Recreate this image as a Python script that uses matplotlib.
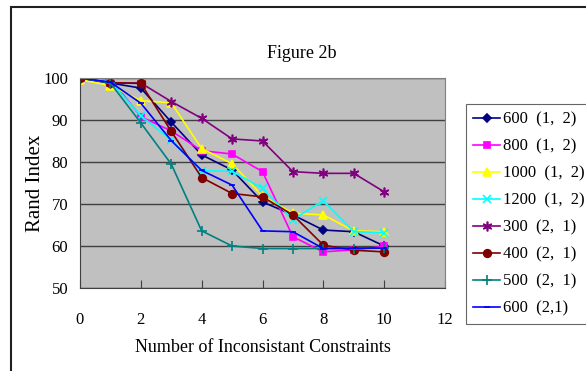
import matplotlib
matplotlib.use("Agg")
import matplotlib.pyplot as plt
from matplotlib.patches import Rectangle

plt.rcParams["font.family"] = ["Liberation Serif", "Noto Sans CJK SC"]

# number of inconsistent constraints
x = [0, 1, 2, 3, 4, 5, 6, 7, 8, 9, 10]

# Rand index per series
ri_600_12 = [100, 98.8, 97.6, 89.5, 81.7, 78.1, 70.5, 67.4, 63.8, 63.4, 60.0]
ri_800_12 = [100, 99.8, 90.8, 87.4, 82.7, 81.9, 77.7, 62.2, 58.6, 59.1, 59.9]
ri_1000_12 = [99.6, 98.2, 94.6, 94.1, 83.2, 79.6, 71.9, 67.8, 67.4, 63.6, 63.4]
ri_1200_12 = [100, 99.2, 91.0, 85.2, 77.9, 77.8, 73.7, 66.3, 70.8, 63.4, 63.2]
ri_300_21 = [100, 98.8, 98.8, 94.4, 90.4, 85.5, 85.0, 77.7, 77.3, 77.3, 72.9]
ri_400_21 = [100, 98.9, 98.7, 87.3, 76.3, 72.5, 71.7, 67.4, 60.2, 59.0, 58.6]
ri_500_21 = [100, 98.8, 89.3, 79.5, 63.6, 60.0, 59.4, 59.4, 59.4, 59.4, 59.5]
ri_600_21 = [100, 99.0, 94.0, 85.1, 78.0, 74.5, 63.6, 63.4, 59.4, 59.5, 59.5]

labels = ["600  (1,  2)", "800  (1,  2)", "1000  (1,  2)", "1200  (1,  2)",
          "300  (2,  1)", "400  (2,  1)", "500  (2,  1)", "600  (2,1)"]

series = [ri_600_12, ri_800_12, ri_1000_12, ri_1200_12,
          ri_300_21, ri_400_21, ri_500_21, ri_600_21]
styles = [("#000080", "D", 4.5), ("#FF00FF", "s", 5), ("#FFFF00", "^", 6),
          ("#00FFFF", "x", 6), ("#800080", (6, 2, 0), 7), ("#800000", "o", 5.5),
          ("#008080", "+", 7), ("#0000FF", "_", 5)]

fig = plt.figure(figsize=(5.86, 3.71), dpi=100)
ax = fig.add_axes([80 / 586, 83 / 371, 365 / 586, 210 / 371])
ax.set_facecolor("#C0C0C0")

for ys, lab, (col, mk, ms) in zip(series, labels, styles):
    ax.plot(x, ys, color=col, marker=mk, markersize=ms, lw=1.2,
            markeredgecolor=col, markeredgewidth=1.2, label=lab)

ax.set_xlim(0, 12)
ax.set_ylim(50, 100)
ax.set_xticks(range(0, 13, 2))
ax.set_yticks(range(50, 101, 10))
ax.yaxis.grid(True, color="#404040", lw=1)
ax.set_axisbelow(True)
ax.tick_params(axis="x", direction="in", length=6, pad=17, labelsize=12,
               color="#404040")
ax.tick_params(axis="y", length=0, pad=8.5, labelsize=12)
for side in ("left", "bottom"):
    ax.spines[side].set_color("#404040")
for side in ("top", "right"):
    ax.spines[side].set_color("#808080")

ax.set_xlabel("Number of Inconsistant Constraints", fontsize=13, labelpad=8)
ax.set_ylabel("Rand Index", fontsize=15, labelpad=-1)
fig.text(302 / 586, 1 - 53 / 371, "Figure 2b", fontsize=13,
         ha="center", va="center")

leg = ax.legend(loc="upper left", bbox_to_anchor=(466 / 586, 1 - 104 / 371),
                bbox_transform=fig.transFigure, borderaxespad=0, fontsize=12,
                frameon=True, fancybox=False, handlelength=1.6,
                handletextpad=0.15, labelspacing=0.66, borderpad=0.45)
leg.get_frame().set_edgecolor("#404040")
leg.get_frame().set_linewidth(0.8)

# outer chart border
fig.patches.append(Rectangle((11 / 586, -0.1), 1.2, 1.1 - 7 / 371,
                             transform=fig.transFigure, fill=False,
                             edgecolor="#202020", lw=1.5))

fig.savefig("out.png", dpi=100)
